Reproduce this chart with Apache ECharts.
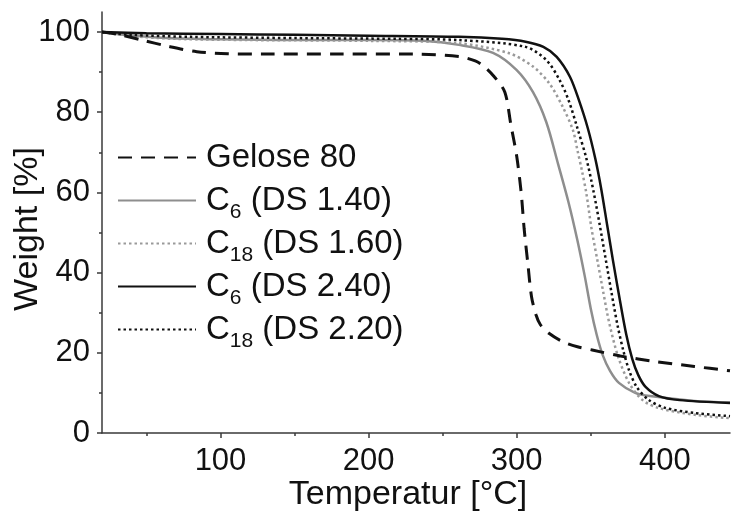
<!DOCTYPE html>
<html>
<head>
<meta charset="utf-8">
<script src="https://cdn.jsdelivr.net/npm/echarts@6/dist/echarts.min.js"></script>
<style>html,body{margin:0;padding:0;background:#fff;}#c{width:731px;height:515px;}</style>
</head>
<body>
<div id="c"></div>
<script>
// ---- data ----
const seriesNames = ['Gelose 80', 'C6 (DS 1.40)', 'C18 (DS 1.60)', 'C6 (DS 2.40)', 'C18 (DS 2.20)'];

const geloseT = [20, 30, 47, 64, 84, 105, 132, 180, 230, 261, 272, 278, 285, 292, 296, 300, 303, 305, 307.5, 310, 313, 316, 322, 331, 341, 351, 370, 394, 420, 444];
const geloseW = [100, 99.5, 98, 96.5, 95.1, 94.6, 94.5, 94.5, 94.5, 93.9, 92.8, 91.4, 88.8, 85, 77, 69, 60, 51, 42.3, 34, 29.5, 27, 24.8, 22.8, 21.5, 20.7, 19.2, 17.8, 16.6, 15.5];

const c6a140T = [20, 35, 60, 100, 150, 200, 237, 261, 284, 300, 311, 320, 328, 335, 341, 346, 350, 354, 358, 363, 369, 380, 390, 420, 444];
const c6a140W = [100, 99.3, 98.6, 98.2, 98, 98, 97.8, 96.8, 94.8, 90.5, 85, 77.5, 67, 57.5, 48, 39, 31, 24.5, 19.5, 15.5, 12.5, 10, 9.2, 8.0, 7.6];

const c18a160T = [20, 40, 70, 120, 200, 261, 295, 311, 322, 331, 338, 341, 344, 347, 350.5, 354.5, 358.5, 362.5, 368.5, 376, 385, 396, 421, 444];
const c18a160W = [100, 99, 98.3, 98, 97.8, 97.2, 94.7, 91.4, 87.2, 81.4, 75.5, 70.5, 65.5, 59.8, 51, 43, 35, 27.4, 19, 12.4, 8.2, 6.2, 4.5, 3.7];

const c6b240T = [20, 50, 100, 150, 200, 261, 290, 306, 318, 327, 336, 342, 348, 353, 357, 361, 365, 369, 374, 378, 382, 387, 396, 410, 444];
const c6b240W = [100, 99.7, 99.5, 99.3, 99.1, 98.8, 98.3, 97.6, 96.3, 93.8, 88.8, 83, 76, 68.5, 61, 52, 43, 34.5, 24.5, 18.5, 14.5, 11.5, 9.2, 8.2, 7.5];

const c18b220T = [20, 40, 80, 150, 220, 261, 306, 320, 329, 335, 341, 347, 352, 356, 360, 364, 368, 372, 376, 381, 389, 400, 420, 444];
const c18b220W = [100, 99.3, 98.8, 98.5, 98.3, 98, 96.3, 93, 88, 83, 76, 68.5, 60, 52, 43.5, 35, 27, 20.5, 15.5, 11.5, 8.3, 6.3, 5.0, 4.2];

const xMajorTicks = [100, 200, 300, 400];
const xMinorTicks = [50, 150, 250, 350];
const yMajorTicks = [0, 20, 40, 60, 80, 100];
const yMinorTicks = [10, 30, 50, 70, 90];
const xRange = [20, 444];
const yRange = [0, 105];

// ---- chart ----
const pairs = (t, w) => t.map((v, i) => [v, w[i]]);
const FONT = 'Liberation Sans';
const axisColor = '#3a3a3a';

const legendLabel = {
  'Gelose 80': '{m|Gelose 80}{s| }',
  'C6 (DS 1.40)': '{m|C}{s|6}{m| (DS 1.40)}',
  'C18 (DS 1.60)': '{m|C}{s|18}{m| (DS 1.60)}',
  'C6 (DS 2.40)': '{m|C}{s|6}{m| (DS 2.40)}',
  'C18 (DS 2.20)': '{m|C}{s|18}{m| (DS 2.20)}'
};

function lineSeries(name, t, w, color, type, width, z) {
  return {
    name, type: 'line', data: pairs(t, w), symbol: 'none', showSymbol: false,
    smooth: 0.3, z,
    lineStyle: { color, type, width },
    itemStyle: { color },
    xAxisIndex: 0, yAxisIndex: 0
  };
}

const chart = echarts.init(document.getElementById('c'), null, { renderer: 'canvas' });
chart.setOption({
  animation: false,
  backgroundColor: '#fff',
  grid: { left: 102, right: 1, top: 12, bottom: 82, containLabel: false, outerBoundsMode: 'none' },
  legend: {
    orient: 'vertical', left: 112, top: 136, itemWidth: 78, itemHeight: 14, itemGap: 4,
    data: seriesNames,
    itemStyle: { opacity: 0 },
    formatter: n => legendLabel[n],
    textStyle: {
      padding: [0, 0, 0, 5],
      rich: {
        m: { fontFamily: FONT, fontSize: 33, color: '#111', lineHeight: 34 },
        s: { fontFamily: FONT, fontSize: 21, color: '#111', lineHeight: 34, height: 10, verticalAlign: 'bottom' }
      }
    }
  },
  xAxis: [{
    type: 'value', min: xRange[0], max: xRange[1], position: 'bottom',
    name: 'Temperatur [°C]', nameLocation: 'middle', nameGap: 45, nameMoveOverlap: false,
    nameTextStyle: { fontFamily: FONT, fontSize: 34, color: '#111', padding: [0, 16, 0, 0] },
    axisLine: { show: true, onZero: false, lineStyle: { color: axisColor, width: 1.5 } },
    axisTick: { show: true, customValues: xMajorTicks, length: 5, inside: false, lineStyle: { color: axisColor, width: 1.5 } },
    axisLabel: { customValues: xMajorTicks, fontFamily: FONT, fontSize: 31, color: '#111', margin: 13 },
    splitLine: { show: false }
  }, {
    type: 'value', min: xRange[0], max: xRange[1], position: 'bottom', offset: 0,
    axisLine: { show: false },
    axisTick: { show: true, customValues: xMinorTicks, length: 3, lineStyle: { color: axisColor, width: 1.5 } },
    axisLabel: { show: false },
    splitLine: { show: false }
  }],
  yAxis: [{
    type: 'value', min: yRange[0], max: yRange[1], position: 'left',
    name: 'Weight [%]', nameLocation: 'middle', nameGap: 57, nameMoveOverlap: false,
    nameTextStyle: { fontFamily: FONT, fontSize: 34, color: '#111', padding: [0, 13, 0, 0] },
    axisLine: { show: true, onZero: false, lineStyle: { color: axisColor, width: 1.5 } },
    axisTick: { show: true, customValues: yMajorTicks, length: 5, lineStyle: { color: axisColor, width: 1.5 } },
    axisLabel: { customValues: yMajorTicks, fontFamily: FONT, fontSize: 31, color: '#111', margin: 12 },
    splitLine: { show: false }
  }, {
    type: 'value', min: yRange[0], max: yRange[1], position: 'left', offset: 0,
    axisLine: { show: false },
    axisTick: { show: true, customValues: yMinorTicks, length: 3, lineStyle: { color: axisColor, width: 1.5 } },
    axisLabel: { show: false },
    splitLine: { show: false }
  }],
  series: [
    lineSeries(seriesNames[0], geloseT, geloseW, '#111111', [14, 9], 3, 5),
    lineSeries(seriesNames[1], c6a140T, c6a140W, '#8e8e8e', 'solid', 2.5, 2),
    lineSeries(seriesNames[2], c18a160T, c18a160W, '#9a9a9a', [2.5, 3], 2.5, 3),
    lineSeries(seriesNames[3], c6b240T, c6b240W, '#111111', 'solid', 2.5, 4),
    lineSeries(seriesNames[4], c18b220T, c18b220W, '#111111', [2.5, 3], 2.5, 4)
  ]
});
</script>
</body>
</html>
